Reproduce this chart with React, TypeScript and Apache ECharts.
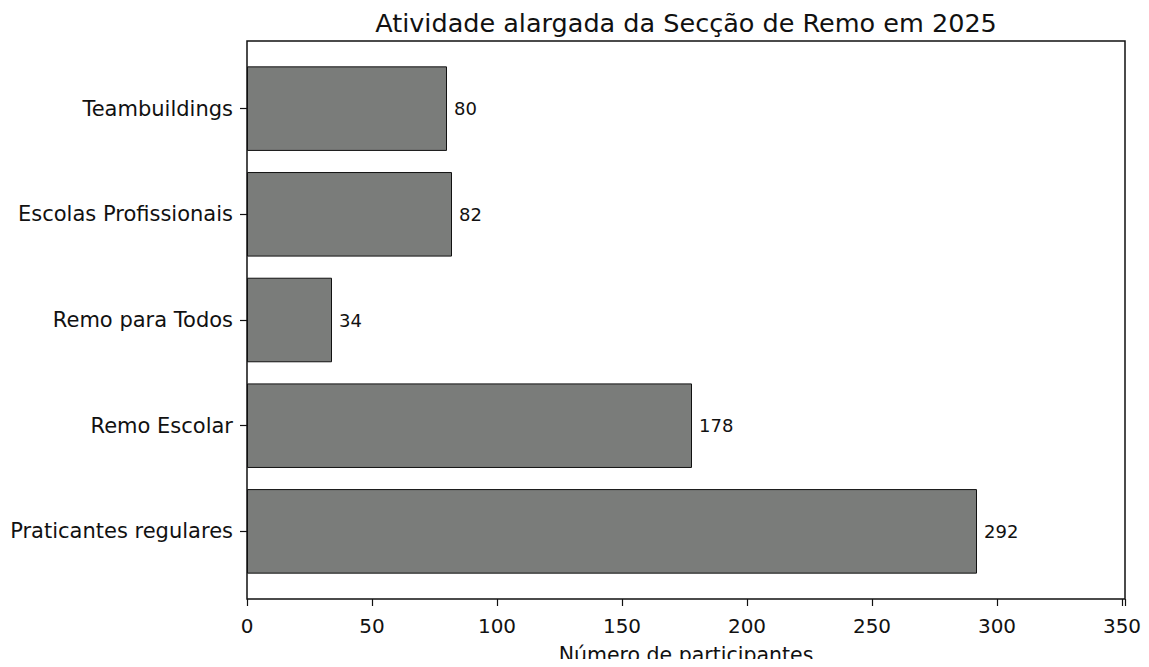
import React, { useEffect, useRef } from "react";
import * as echarts from "echarts";

const categories = [
  "Praticantes regulares",
  "Remo Escolar",
  "Remo para Todos",
  "Escolas Profissionais",
  "Teambuildings",
];
const values = [292, 178, 34, 82, 80];
const xTicks = [0, 50, 100, 150, 200, 250, 300, 350];

const FONT = "DejaVu Sans";

export default function App() {
  const ref = useRef<HTMLDivElement>(null);
  useEffect(() => {
    if (!ref.current) return;
    const chart = echarts.init(ref.current, null, { renderer: "svg" });
    const frameTop = 41;
    const frameBottom = 599;
    const frameLeft = 247;
    const frameRight = 1125;
    const band = (frameBottom - frameTop) / 5.28;
    const pad = 0.14 * band;
    chart.setOption({
      animation: false,
      backgroundColor: "#ffffff",
      title: {
        text: "Atividade alargada da Secção de Remo em 2025",
        left: 681,
        textAlign: "center",
        top: 5,
        textStyle: { fontFamily: FONT, fontSize: 25.5, fontWeight: "normal", color: "#111" },
      },
      grid: {
        left: frameLeft,
        top: frameTop + pad,
        width: frameRight - frameLeft,
        height: frameBottom - frameTop - 2 * pad,
        containLabel: false,
        outerBoundsMode: "none",
      },
      xAxis: {
        type: "value",
        min: 0,
        max: 351.2,
        interval: 50,
        offset: pad,
        splitLine: { show: false },
        axisLine: { show: false },
        axisTick: { show: true, length: 7, lineStyle: { color: "#111", width: 1.2 } },
        axisLabel: {
          fontFamily: FONT,
          fontSize: 20,
          color: "#111",
          margin: 17,
          showMaxLabel: true,
          formatter: (v: number) => (xTicks.includes(v) ? String(v) : ""),
        },
        name: "Número de participantes",
        nameLocation: "middle",
        nameGap: 45,
        nameTextStyle: { fontFamily: FONT, fontSize: 20.5, color: "#111" },
      },
      yAxis: {
        type: "category",
        data: categories,
        axisLine: { show: false },
        axisTick: { show: true, alignWithLabel: true, length: 7, lineStyle: { color: "#111", width: 1.2 } },
        axisLabel: { fontFamily: FONT, fontSize: 21, color: "#111", margin: 14 },
      },
      graphic: [
        {
          type: "rect",
          shape: { x: frameLeft, y: frameTop, width: frameRight - frameLeft, height: frameBottom - frameTop },
          style: { fill: "none", stroke: "#111", lineWidth: 1.5 },
          z: 100,
        },
      ],
      series: [
        {
          type: "bar",
          data: values,
          barWidth: "80%",
          itemStyle: { color: "#7a7c7a", borderColor: "#111", borderWidth: 1 },
          label: {
            show: true,
            position: "right",
            distance: 7,
            fontFamily: FONT,
            fontSize: 18,
            color: "#111",
          },
        },
      ],
    });
    return () => chart.dispose();
  }, []);
  return <div ref={ref} style={{ width: 1149, height: 667, margin: -8 }} />;
}
